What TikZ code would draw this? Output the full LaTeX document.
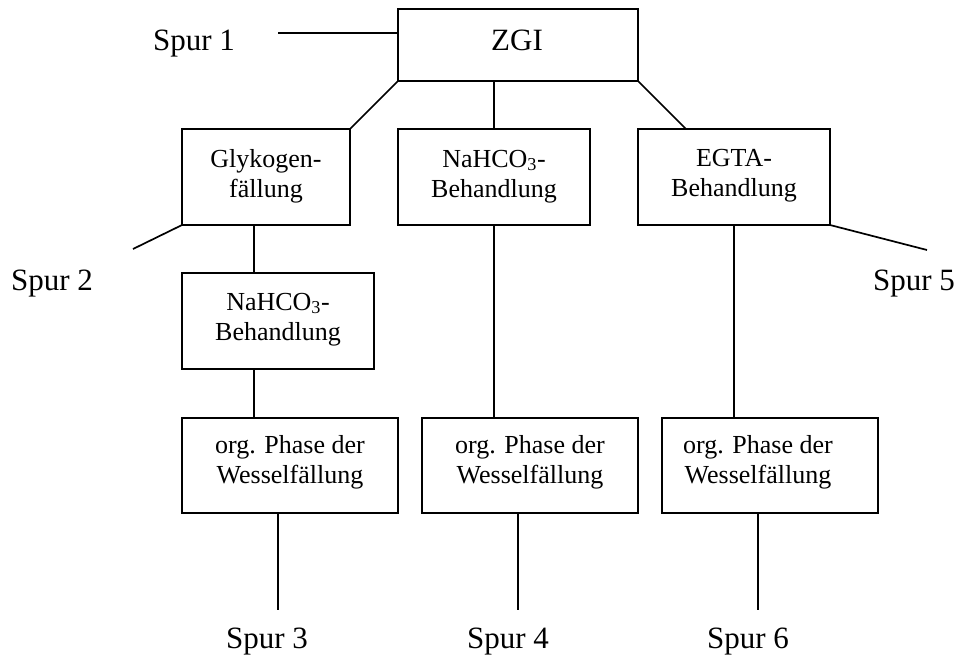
\documentclass[tikz,border=0pt]{standalone}
\usepackage{fontspec}
\setmainfont{Liberation Serif}
\newcommand\firststrut{\rule{0pt}{20pt}}
\begin{document}
\begin{tikzpicture}[x=1pt,y=-1pt,
  box/.style={draw, rectangle, line width=1.7pt, inner sep=0pt, outer sep=0pt},
  conn/.style={line width=1.7pt},
  big/.style={font=\fontsize{31}{36}\selectfont, inner sep=0pt, anchor=base},
  lbl/.style={font=\fontsize{26}{30}\selectfont, align=center, inner sep=0pt, anchor=north}]
\useasboundingbox (0,0) rectangle (959,659);

% boxes
\node[box, minimum width=240pt, minimum height=72pt] (zgi)  at (518,45) {};
\node[box, minimum width=168pt, minimum height=96pt] (glyk) at (266,177) {};
\node[box, minimum width=192pt, minimum height=96pt] (mid)  at (494,177) {};
\node[box, minimum width=192pt, minimum height=96pt] (egta) at (734,177) {};
\node[box, minimum width=192pt, minimum height=96pt] (nahb) at (278,321) {};
\node[box, minimum width=216pt, minimum height=95pt] (org1) at (290,465.5) {};
\node[box, minimum width=216pt, minimum height=95pt] (org2) at (530,465.5) {};
\node[box, minimum width=216pt, minimum height=95pt] (org3) at (770,465.5) {};

% texts
\node[big] (tzgi) at (517,50) {ZGI};
\node[lbl] (tglyk) at (266,147) {\firststrut Glykogen-\\fällung};
\node[lbl] (tmid)  at (494,147) {\firststrut NaHCO\textsubscript{3}-\\Behandlung};
\node[lbl] (tegta) at (734,146) {\firststrut EGTA-\\Behandlung};
\node[lbl] (tnahb) at (278,290) {\firststrut NaHCO\textsubscript{3}-\\Behandlung};
\node[lbl] (torg1) at (290,433) {\firststrut org. Phase der\\Wesselfällung};
\node[lbl] (torg2) at (530,433) {\firststrut org. Phase der\\Wesselfällung};
\node[lbl] (torg3) at (758,433) {\firststrut org. Phase der\\Wesselfällung};

\node[big] (sp1) at (194,50)  {Spur 1};
\node[big] (sp2) at (52,290)  {Spur 2};
\node[big] (sp5) at (914,290) {Spur 5};
\node[big] (sp3) at (267,648) {Spur 3};
\node[big] (sp4) at (508,648) {Spur 4};
\node[big] (sp6) at (748,648) {Spur 6};

% free line ends
\coordinate (e1) at (278,33);
\coordinate (e2) at (133,249);
\coordinate (e5) at (927,250);
\coordinate (e3) at (278,610);
\coordinate (e4) at (518,610);
\coordinate (e6) at (758,610);

% connectors
\draw[conn] (e1) -- (e1 -| zgi.west);
\draw[conn] (zgi.south west) -- (glyk.north east);
\draw[conn] (mid.north |- zgi.south) -- (mid.north);
\draw[conn] (zgi.south east) -- ([xshift=48pt]egta.north west);
\draw[conn] (glyk.south west) -- (e2);
\draw[conn] (egta.south east) -- (e5);
\draw[conn] ([xshift=72pt]glyk.south west) -- ([xshift=72pt]nahb.north west);
\draw[conn] ([xshift=72pt]nahb.south west) -- ([xshift=72pt]org1.north west);
\draw[conn] ([xshift=96pt]org1.south west) -- (e3);
\draw[conn] (mid.south) -- (mid.south |- org2.north);
\draw[conn] ([xshift=96pt]org2.south west) -- (e4);
\draw[conn] (egta.south) -- (egta.south |- org3.north);
\draw[conn] ([xshift=96pt]org3.south west) -- (e6);
\end{tikzpicture}
\end{document}
